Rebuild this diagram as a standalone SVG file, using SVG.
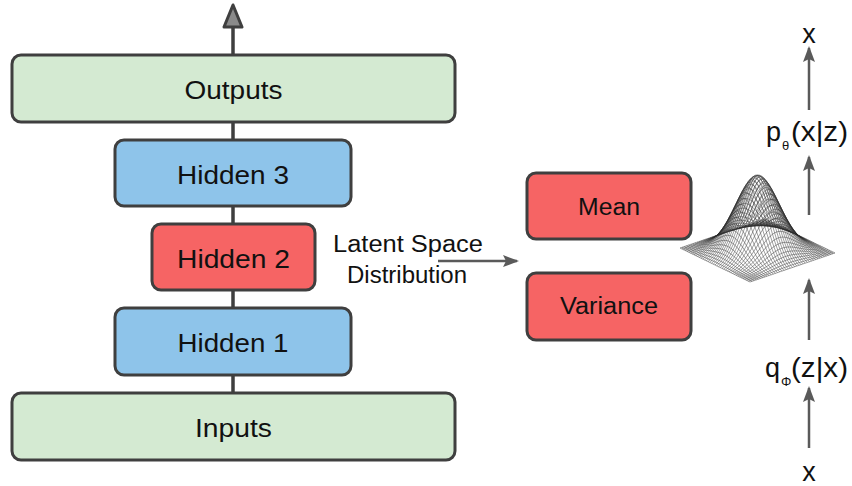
<svg xmlns="http://www.w3.org/2000/svg" xmlns:xlink="http://www.w3.org/1999/xlink" width="852" height="486" viewBox="0 0 852 486">
  <style>
    .box { stroke: #3f3f3f; stroke-width: 3; }
    .io { fill: #d4ead2; }
    .hid { fill: #8ec4ea; }
    .lat { fill: #f66464; }
    .lbl { font-family: "Liberation Sans", Arial, sans-serif; font-size: 26px; fill: #111; text-anchor: middle; }
    .lbl2 { font-family: "Liberation Sans", Arial, sans-serif; font-size: 23px; fill: #111; text-anchor: middle; }
    .math { font-family: "Liberation Sans", Arial, sans-serif; font-size: 27px; fill: #111; }
    .sub { font-family: "Liberation Sans", Arial, sans-serif; font-size: 13px; fill: #111; }
    .stack { stroke: #3f3f3f; stroke-width: 3.5; fill: none; }
    .arr { stroke: #5a5a5a; stroke-width: 2.5; fill: none; marker-end: url(#head); }
    .mesh { fill: none; stroke: #2a2a2a; stroke-width: 0.45; }
  </style>
  <defs>
    <marker id="head" viewBox="0 0 16 12" refX="14" refY="6" markerWidth="16" markerHeight="12" markerUnits="userSpaceOnUse" orient="auto">
      <path d="M0,0 L16,6 L0,12 L3,6 Z" fill="#5a5a5a"/>
    </marker>
    <!-- unit bell profile over u in [-1,1], zero at both ends, -1 at the centre -->
    <path id="g" vector-effect="non-scaling-stroke" d="M-1,0 L-0.95,-0.01781 -0.9,-0.04025 -0.85,-0.06807 -0.8,-0.10189 -0.75,-0.14227 -0.7,-0.18958 -0.65,-0.24388 -0.6,-0.305 -0.55,-0.37229 -0.5,-0.44472 -0.45,-0.52087 -0.4,-0.5988 -0.35,-0.67634 -0.3,-0.75098 -0.25,-0.82007 -0.2,-0.88099 -0.15,-0.93131 -0.1,-0.9689 -0.05,-0.99214 0,-1 0.05,-0.99214 0.1,-0.9689 0.15,-0.93131 0.2,-0.88099 0.25,-0.82007 0.3,-0.75098 0.35,-0.67634 0.4,-0.5988 0.45,-0.52087 0.5,-0.44472 0.55,-0.37229 0.6,-0.305 0.65,-0.24388 0.7,-0.18958 0.75,-0.14227 0.8,-0.10189 0.85,-0.06807 0.9,-0.04025 0.95,-0.01781 1,0"/>
  </defs>

  <!-- vertical links of the encoder/decoder stack and the side arrows -->
  <g id="connectors">
    <path class="stack" d="M233,55 V26"/>
    <path d="M233,5 L242,27 L224,27 Z" fill="#8a8a8a" stroke="#3f3f3f" stroke-width="3" stroke-linejoin="round"/>
    <path class="stack" d="M233,122 V140 M233,206 V224 M233,290 V308 M233,375 V393"/>
    <path class="arr" d="M438,261 H517"/>
    <path class="arr" d="M809,110 V48"/>
    <path class="arr" d="M809,215 V157"/>
    <path class="arr" d="M809,340 V280"/>
    <path class="arr" d="M809,448 V388"/>
  </g>

  <g id="outputs">
    <rect class="box io" x="12" y="55" width="443" height="67" rx="9"/>
    <text class="lbl" x="233.5" y="99" textLength="98" lengthAdjust="spacingAndGlyphs">Outputs</text>
  </g>
  <g id="hidden3">
    <rect class="box hid" x="115" y="140" width="236" height="66" rx="9"/>
    <text class="lbl" x="233" y="184" textLength="112" lengthAdjust="spacingAndGlyphs">Hidden 3</text>
  </g>
  <g id="hidden2">
    <rect class="box lat" x="152" y="224" width="163" height="66" rx="9"/>
    <text class="lbl" x="233.5" y="268" textLength="113" lengthAdjust="spacingAndGlyphs">Hidden 2</text>
  </g>
  <g id="hidden1">
    <rect class="box hid" x="115" y="308" width="236" height="67" rx="9"/>
    <text class="lbl" x="233" y="352" textLength="111" lengthAdjust="spacingAndGlyphs">Hidden 1</text>
  </g>
  <g id="inputs">
    <rect class="box io" x="12" y="393" width="443" height="67" rx="9"/>
    <text class="lbl" x="233.5" y="437" textLength="77" lengthAdjust="spacingAndGlyphs">Inputs</text>
  </g>

  <g id="latent-label">
    <text class="lbl2" x="408" y="252" textLength="150" lengthAdjust="spacingAndGlyphs">Latent Space</text>
    <text class="lbl2" x="407" y="283" textLength="120" lengthAdjust="spacingAndGlyphs">Distribution</text>
  </g>

  <g id="mean">
    <rect class="box lat" x="527" y="173" width="164" height="66" rx="9"/>
    <text class="lbl2" x="609" y="215" textLength="62" lengthAdjust="spacingAndGlyphs">Mean</text>
  </g>
  <g id="variance">
    <rect class="box lat" x="527" y="273" width="164" height="67" rx="9"/>
    <text class="lbl2" x="609" y="314" textLength="98" lengthAdjust="spacingAndGlyphs">Variance</text>
  </g>

  <!-- bell-shaped wireframe: base diamond centred at (757.5,250.5), peak height 75.
       Each grid line is the unit profile mapped by matrix(axis, 0, height, origin). -->
  <g id="gaussian" class="mesh">
    <!-- lines of constant v -->
    <use xlink:href="#g" transform="matrix(35,17,0,0.01,800,236)"/>
    <use xlink:href="#g" transform="matrix(35,17,0,1.34,797.875,236.725)"/>
    <use xlink:href="#g" transform="matrix(35,17,0,3.02,795.75,237.45)"/>
    <use xlink:href="#g" transform="matrix(35,17,0,5.11,793.625,238.175)"/>
    <use xlink:href="#g" transform="matrix(35,17,0,7.64,791.5,238.9)"/>
    <use xlink:href="#g" transform="matrix(35,17,0,10.67,789.375,239.625)"/>
    <use xlink:href="#g" transform="matrix(35,17,0,14.22,787.25,240.35)"/>
    <use xlink:href="#g" transform="matrix(35,17,0,18.29,785.125,241.075)"/>
    <use xlink:href="#g" transform="matrix(35,17,0,22.88,783,241.8)"/>
    <use xlink:href="#g" transform="matrix(35,17,0,27.92,780.875,242.525)"/>
    <use xlink:href="#g" transform="matrix(35,17,0,33.35,778.75,243.25)"/>
    <use xlink:href="#g" transform="matrix(35,17,0,39.07,776.625,243.975)"/>
    <use xlink:href="#g" transform="matrix(35,17,0,44.91,774.5,244.7)"/>
    <use xlink:href="#g" transform="matrix(35,17,0,50.73,772.375,245.425)"/>
    <use xlink:href="#g" transform="matrix(35,17,0,56.32,770.25,246.15)"/>
    <use xlink:href="#g" transform="matrix(35,17,0,61.51,768.125,246.875)"/>
    <use xlink:href="#g" transform="matrix(35,17,0,66.07,766,247.6)"/>
    <use xlink:href="#g" transform="matrix(35,17,0,69.85,763.875,248.325)"/>
    <use xlink:href="#g" transform="matrix(35,17,0,72.67,761.75,249.05)"/>
    <use xlink:href="#g" transform="matrix(35,17,0,74.41,759.625,249.775)"/>
    <use xlink:href="#g" transform="matrix(35,17,0,75,757.5,250.5)"/>
    <use xlink:href="#g" transform="matrix(35,17,0,74.41,755.375,251.225)"/>
    <use xlink:href="#g" transform="matrix(35,17,0,72.67,753.25,251.95)"/>
    <use xlink:href="#g" transform="matrix(35,17,0,69.85,751.125,252.675)"/>
    <use xlink:href="#g" transform="matrix(35,17,0,66.07,749,253.4)"/>
    <use xlink:href="#g" transform="matrix(35,17,0,61.51,746.875,254.125)"/>
    <use xlink:href="#g" transform="matrix(35,17,0,56.32,744.75,254.85)"/>
    <use xlink:href="#g" transform="matrix(35,17,0,50.73,742.625,255.575)"/>
    <use xlink:href="#g" transform="matrix(35,17,0,44.91,740.5,256.3)"/>
    <use xlink:href="#g" transform="matrix(35,17,0,39.07,738.375,257.025)"/>
    <use xlink:href="#g" transform="matrix(35,17,0,33.35,736.25,257.75)"/>
    <use xlink:href="#g" transform="matrix(35,17,0,27.92,734.125,258.475)"/>
    <use xlink:href="#g" transform="matrix(35,17,0,22.88,732,259.2)"/>
    <use xlink:href="#g" transform="matrix(35,17,0,18.29,729.875,259.925)"/>
    <use xlink:href="#g" transform="matrix(35,17,0,14.22,727.75,260.65)"/>
    <use xlink:href="#g" transform="matrix(35,17,0,10.67,725.625,261.375)"/>
    <use xlink:href="#g" transform="matrix(35,17,0,7.64,723.5,262.1)"/>
    <use xlink:href="#g" transform="matrix(35,17,0,5.11,721.375,262.825)"/>
    <use xlink:href="#g" transform="matrix(35,17,0,3.02,719.25,263.55)"/>
    <use xlink:href="#g" transform="matrix(35,17,0,1.34,717.125,264.275)"/>
    <use xlink:href="#g" transform="matrix(35,17,0,0.01,715,265)"/>
    <!-- lines of constant u -->
    <use xlink:href="#g" transform="matrix(-42.5,14.5,0,0.01,722.5,233.5)"/>
    <use xlink:href="#g" transform="matrix(-42.5,14.5,0,1.34,724.25,234.35)"/>
    <use xlink:href="#g" transform="matrix(-42.5,14.5,0,3.02,726,235.2)"/>
    <use xlink:href="#g" transform="matrix(-42.5,14.5,0,5.11,727.75,236.05)"/>
    <use xlink:href="#g" transform="matrix(-42.5,14.5,0,7.64,729.5,236.9)"/>
    <use xlink:href="#g" transform="matrix(-42.5,14.5,0,10.67,731.25,237.75)"/>
    <use xlink:href="#g" transform="matrix(-42.5,14.5,0,14.22,733,238.6)"/>
    <use xlink:href="#g" transform="matrix(-42.5,14.5,0,18.29,734.75,239.45)"/>
    <use xlink:href="#g" transform="matrix(-42.5,14.5,0,22.88,736.5,240.3)"/>
    <use xlink:href="#g" transform="matrix(-42.5,14.5,0,27.92,738.25,241.15)"/>
    <use xlink:href="#g" transform="matrix(-42.5,14.5,0,33.35,740,242)"/>
    <use xlink:href="#g" transform="matrix(-42.5,14.5,0,39.07,741.75,242.85)"/>
    <use xlink:href="#g" transform="matrix(-42.5,14.5,0,44.91,743.5,243.7)"/>
    <use xlink:href="#g" transform="matrix(-42.5,14.5,0,50.73,745.25,244.55)"/>
    <use xlink:href="#g" transform="matrix(-42.5,14.5,0,56.32,747,245.4)"/>
    <use xlink:href="#g" transform="matrix(-42.5,14.5,0,61.51,748.75,246.25)"/>
    <use xlink:href="#g" transform="matrix(-42.5,14.5,0,66.07,750.5,247.1)"/>
    <use xlink:href="#g" transform="matrix(-42.5,14.5,0,69.85,752.25,247.95)"/>
    <use xlink:href="#g" transform="matrix(-42.5,14.5,0,72.67,754,248.8)"/>
    <use xlink:href="#g" transform="matrix(-42.5,14.5,0,74.41,755.75,249.65)"/>
    <use xlink:href="#g" transform="matrix(-42.5,14.5,0,75,757.5,250.5)"/>
    <use xlink:href="#g" transform="matrix(-42.5,14.5,0,74.41,759.25,251.35)"/>
    <use xlink:href="#g" transform="matrix(-42.5,14.5,0,72.67,761,252.2)"/>
    <use xlink:href="#g" transform="matrix(-42.5,14.5,0,69.85,762.75,253.05)"/>
    <use xlink:href="#g" transform="matrix(-42.5,14.5,0,66.07,764.5,253.9)"/>
    <use xlink:href="#g" transform="matrix(-42.5,14.5,0,61.51,766.25,254.75)"/>
    <use xlink:href="#g" transform="matrix(-42.5,14.5,0,56.32,768,255.6)"/>
    <use xlink:href="#g" transform="matrix(-42.5,14.5,0,50.73,769.75,256.45)"/>
    <use xlink:href="#g" transform="matrix(-42.5,14.5,0,44.91,771.5,257.3)"/>
    <use xlink:href="#g" transform="matrix(-42.5,14.5,0,39.07,773.25,258.15)"/>
    <use xlink:href="#g" transform="matrix(-42.5,14.5,0,33.35,775,259)"/>
    <use xlink:href="#g" transform="matrix(-42.5,14.5,0,27.92,776.75,259.85)"/>
    <use xlink:href="#g" transform="matrix(-42.5,14.5,0,22.88,778.5,260.7)"/>
    <use xlink:href="#g" transform="matrix(-42.5,14.5,0,18.29,780.25,261.55)"/>
    <use xlink:href="#g" transform="matrix(-42.5,14.5,0,14.22,782,262.4)"/>
    <use xlink:href="#g" transform="matrix(-42.5,14.5,0,10.67,783.75,263.25)"/>
    <use xlink:href="#g" transform="matrix(-42.5,14.5,0,7.64,785.5,264.1)"/>
    <use xlink:href="#g" transform="matrix(-42.5,14.5,0,5.11,787.25,264.95)"/>
    <use xlink:href="#g" transform="matrix(-42.5,14.5,0,3.02,789,265.8)"/>
    <use xlink:href="#g" transform="matrix(-42.5,14.5,0,1.34,790.75,266.65)"/>
    <use xlink:href="#g" transform="matrix(-42.5,14.5,0,0.01,792.5,267.5)"/>
  </g>

  <!-- probability labels on the right -->
  <g id="x-top">
    <text class="math" x="809" y="43" text-anchor="middle">x</text>
  </g>
  <g id="p-theta">
    <text class="math" x="766" y="141">p</text>
    <text class="sub" x="782" y="150">θ</text>
    <text class="math" x="791" y="141" textLength="57" lengthAdjust="spacingAndGlyphs">(x|z)</text>
  </g>
  <g id="q-phi">
    <text class="math" x="765" y="377">q</text>
    <text class="sub" x="781" y="386">Φ</text>
    <text class="math" x="791" y="377" textLength="57" lengthAdjust="spacingAndGlyphs">(z|x)</text>
  </g>
  <g id="x-bottom">
    <text class="math" x="809" y="481" text-anchor="middle">x</text>
  </g>
</svg>
